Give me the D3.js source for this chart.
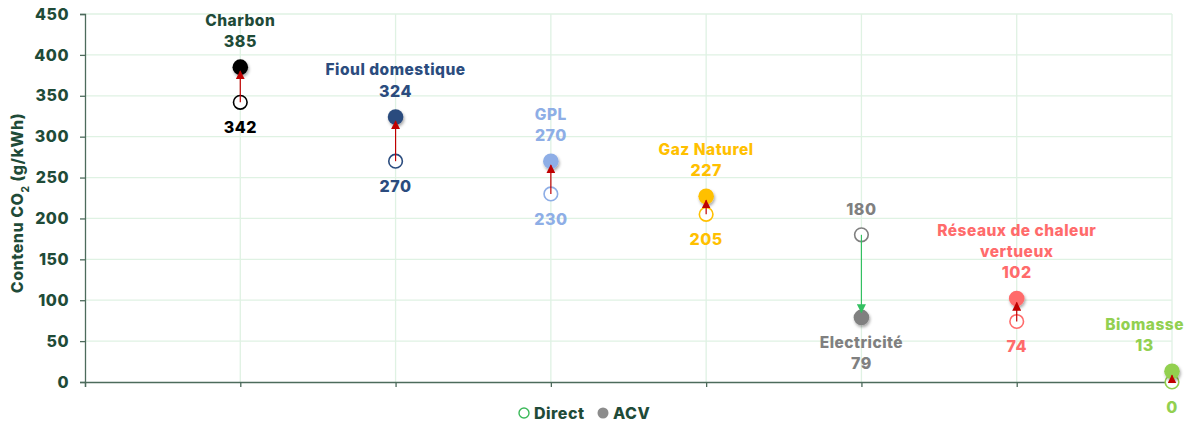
<!DOCTYPE html>
<html lang="fr">
<head>
<meta charset="utf-8">
<script src="https://cdn.jsdelivr.net/npm/d3@7"></script>
<style>
  html, body { margin: 0; padding: 0; background: #fff; }
  svg { display: block; font-family: Inter, "Open Sans", sans-serif; letter-spacing: 0.5px; }
</style>
</head>
<body>
<svg id="chart" width="1189" height="426"></svg>
<script>
// Energy sources and their CO2 content (g/kWh)
const categories = ["Charbon", "Fioul domestique", "GPL", "Gaz Naturel", "Electricité", "Réseaux de chaleur vertueux", "Biomasse"];
const labelLines = [["Charbon"], ["Fioul domestique"], ["GPL"], ["Gaz Naturel"], ["Electricité"], ["Réseaux de chaleur", "vertueux"], ["Biomasse"]];
const directValues = [342, 270, 230, 205, 180, 74, 0];
const acvValues = [385, 324, 270, 227, 79, 102, 13];
const markerColors = ["#000000", "#2b4c7e", "#8eaee6", "#ffc000", "#808080", "#ff6b6b", "#92d050"];
const labelColors = ["#1f4b38", "#2b4c7e", "#8eaee6", "#ffc000", "#808080", "#ff6b6b", "#92d050"];
const directLabelColors = ["#000000", "#2b4c7e", "#8eaee6", "#ffc000", "#808080", "#ff6b6b", "#92d050"];
const yTicks = [0, 50, 100, 150, 200, 250, 300, 350, 400, 450];
const legendItems = ["Direct", "ACV"];

const W = 1189, H = 426;
const margin = { left: 85, right: 17, top: 14, bottom: 44 };
const textColor = "#1f4b38";
const gridColor = "#dff2e3";
const axisColor = "#4d6b5c";

const svg = d3.select("#chart");

const x = d3.scaleLinear().domain([0, categories.length]).range([margin.left, W - margin.right]);
const y = d3.scaleLinear().domain([0, 450]).range([H - margin.bottom, margin.top]);

const defs = svg.append("defs");
const shadow = defs.append("filter").attr("id", "shadow")
  .attr("x", "-50%").attr("y", "-50%").attr("width", "200%").attr("height", "200%");
shadow.append("feDropShadow").attr("dx", 1).attr("dy", 2).attr("stdDeviation", 1.5)
  .attr("flood-color", "#000").attr("flood-opacity", 0.35);

["red", "green"].forEach((k) => {
  defs.append("marker").attr("id", "arrow-" + k)
    .attr("viewBox", "0 0 10 10").attr("refX", 9).attr("refY", 5)
    .attr("markerWidth", 9).attr("markerHeight", 9)
    .attr("markerUnits", "userSpaceOnUse")
    .attr("orient", "auto")
    .append("path").attr("d", "M0,0 L10,5 L0,10 Z")
    .attr("fill", k === "red" ? "#c00000" : "#33c061");
});

// Grid
const grid = svg.append("g");
grid.selectAll("line.h").data(yTicks.filter(d => d > 0)).join("line")
  .attr("x1", x(0)).attr("x2", x(categories.length))
  .attr("y1", d => y(d)).attr("y2", d => y(d))
  .attr("stroke", gridColor).attr("stroke-width", 1.3);
grid.selectAll("line.v").data(d3.range(1, categories.length + 1)).join("line")
  .attr("x1", d => x(d)).attr("x2", d => x(d))
  .attr("y1", y(450)).attr("y2", y(0))
  .attr("stroke", gridColor).attr("stroke-width", 1.3);

// Y axis
const yAxis = svg.append("g").attr("transform", `translate(${x(0)},0)`)
  .call(d3.axisLeft(y).tickValues(yTicks).tickSize(5).tickPadding(11));
yAxis.select(".domain").attr("stroke", axisColor).attr("stroke-width", 1.3);
yAxis.selectAll(".tick line").attr("stroke", axisColor).attr("stroke-width", 1.3);
yAxis.selectAll(".tick text").attr("fill", textColor)
  .style("font-size", "16px").style("font-weight", 800).attr("font-family", "Inter, sans-serif");

// X axis
const xAxis = svg.append("g").attr("transform", `translate(0,${y(0)})`)
  .call(d3.axisBottom(x).tickValues(d3.range(0, categories.length + 1)).tickSize(5).tickFormat(""));
xAxis.select(".domain").attr("stroke", axisColor).attr("stroke-width", 1.3);
xAxis.selectAll(".tick line").attr("stroke", axisColor).attr("stroke-width", 1.3);

// Y axis title
const title = svg.append("text")
  .attr("transform", `translate(23,${(y(0) + y(450)) / 2 + 5}) rotate(-90)`)
  .attr("text-anchor", "middle")
  .attr("fill", textColor).style("font-size", "16px").style("font-weight", 800);
title.append("tspan").text("Contenu CO");
title.append("tspan").attr("baseline-shift", "sub").style("font-size", "10px").text("2");
title.append("tspan").text(" (g/kWh)");

const data = categories.map((c, i) => ({
  i, name: c, lines: labelLines[i], direct: directValues[i], acv: acvValues[i],
  color: markerColors[i], labelColor: labelColors[i], directLabelColor: directLabelColors[i]
}));

// Direct markers (hollow)
svg.append("g").selectAll("circle").data(data).join("circle")
  .attr("cx", d => x(d.i + 1)).attr("cy", d => y(d.direct)).attr("r", 6.8)
  .attr("fill", "#fff").attr("stroke", d => d.color).attr("stroke-width", 1.6);

// ACV markers (filled, with shadow)
svg.append("g").selectAll("circle").data(data).join("circle")
  .attr("cx", d => x(d.i + 1)).attr("cy", d => y(d.acv)).attr("r", 7.8)
  .attr("fill", d => d.color).attr("filter", "url(#shadow)");

// Arrows from direct to ACV
svg.append("g").selectAll("line").data(data).join("line")
  .attr("x1", d => x(d.i + 1)).attr("x2", d => x(d.i + 1))
  .attr("y1", d => y(d.direct))
  .attr("y2", d => y(d.acv) + (d.acv >= d.direct ? 4 : -5))
  .attr("stroke", d => d.acv >= d.direct ? "#c00000" : "#33c061")
  .attr("stroke-width", 1.2)
  .attr("marker-end", d => d.acv >= d.direct ? "url(#arrow-red)" : "url(#arrow-green)");

// Labels
const labels = svg.append("g").style("font-weight", 800);
const lineH = 21;
data.forEach(d => {
  const cx = x(d.i + 1);
  const up = d.acv >= d.direct;
  const block = labels.append("g");
  const texts = [];
  if (up) {
    const vy = y(d.acv) - 26;
    texts.push({ t: String(d.acv), y: vy, size: 16 });
    d.lines.slice().reverse().forEach((l, k) => texts.push({ t: l, y: vy - lineH * (k + 1), size: 15.5 }));
  } else {
    const ny = y(d.acv) + 25;
    d.lines.forEach((l, k) => texts.push({ t: l, y: ny + lineH * k, size: 15.5 }));
    texts.push({ t: String(d.acv), y: ny + lineH * d.lines.length, size: 16 });
  }
  block.selectAll("text").data(texts).join("text")
    .attr("x", cx).attr("y", t => t.y).attr("dy", "0.35em")
    .attr("text-anchor", "middle").attr("fill", d.labelColor)
    .style("font-size", t => t.size + "px").text(t => t.t);
  // keep the block inside the drawing area
  let maxW = 0;
  block.selectAll("text").each(function () { maxW = Math.max(maxW, this.getComputedTextLength()); });
  const shift = Math.min(0, (W - 5) - (cx + maxW / 2));
  block.attr("transform", `translate(${shift},0)`);

  // Direct value label
  labels.append("text")
    .attr("x", cx).attr("y", y(d.direct) + (up ? 25 : -25)).attr("dy", "0.35em")
    .attr("text-anchor", "middle").attr("fill", d.directLabelColor)
    .style("font-size", "16px").text(d.direct);
});

// Legend
const legend = svg.append("g").attr("transform", `translate(0,${H - 13})`)
  .style("font-size", "16px").style("font-weight", 800);
legend.append("circle").attr("cx", 524).attr("cy", 0).attr("r", 5)
  .attr("fill", "#fff").attr("stroke", "#3cb95a").attr("stroke-width", 1.4);
legend.append("text").attr("x", 534).attr("y", 0).attr("dy", "0.35em").attr("fill", textColor).text(legendItems[0]);
legend.append("circle").attr("cx", 603).attr("cy", 0).attr("r", 5.5).attr("fill", "#8c8c8c");
legend.append("text").attr("x", 613).attr("y", 0).attr("dy", "0.35em").attr("fill", textColor).text(legendItems[1]);
</script>
</body>
</html>
